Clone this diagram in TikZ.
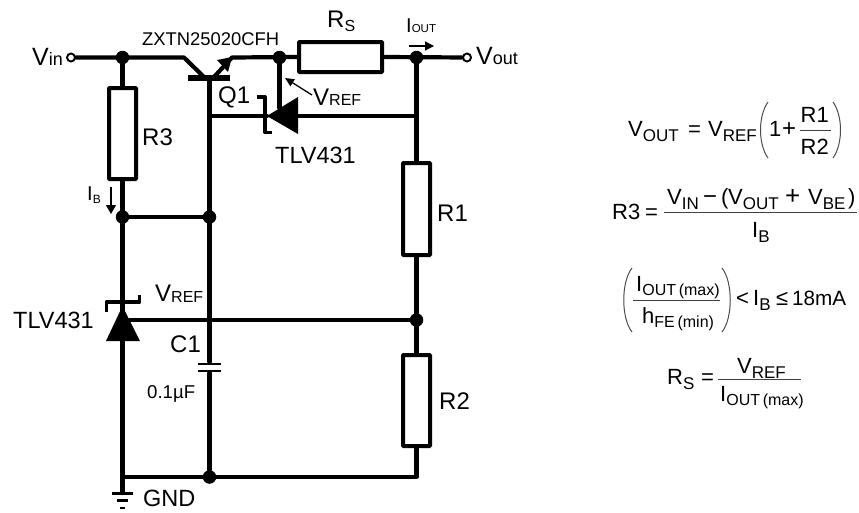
\documentclass[tikz,border=0pt]{standalone}
\usepackage{fontspec}
\setmainfont{Liberation Sans}
\usetikzlibrary{positioning,calc,arrows.meta}
\newcommand{\fs}[1]{\fontsize{#1}{#1}\selectfont}
\newcommand{\sbs}[4][4]{#3\raisebox{-#1pt}{\fs{#2}#4}}
\tikzset{
    wire/.style={line width=4.2pt, line cap=round, line join=round},
    thinwire/.style={line width=1.3pt},
    res/.style={draw, line width=4pt, rounded corners=0.8pt, inner sep=0pt, minimum width=27pt},
    dot/.style={circle, fill=black, inner sep=0pt, minimum size=13.5pt},
    port/.style={circle, draw, fill=white, line width=1.9pt, inner sep=0pt, minimum size=8pt},
    txt/.style={font=\fs{#1}, anchor=base west, inner sep=0pt},
    ruleline/.style={line width=1pt, black!75},
    paren/.style={line width=1pt, black!70},
}
\begin{document}
\begin{tikzpicture}[x=1pt, y=-1pt]
    \useasboundingbox (0,0) rectangle (859,512);

    % Junctions and terminals
    \node[port] (vin) at (71,57.5) {};
    \node[port] (vout) at (467,57.5) {};
    \node[dot] (ntop) at (122.5,57.5) {};
    \node[dot] (nref) at (279.5,57.5) {};
    \node[dot] (nout) at (416.5,57.5) {};
    \node[dot] (nbase) at (122.5,217) {};
    \node[dot] (ncol) at (209.5,217) {};
    \node[dot] (ndiv) at (416.5,320) {};
    \node[dot] (nbot) at (209.5,477) {};
    \coordinate (corner) at (122.5,477);
    \coordinate (cornerR) at (416.5,477);
    \coordinate (basein) at (184,57.5);
    \coordinate (basehit) at (205,78);
    \coordinate (collector) at (209.5,78);
    \coordinate (emhit) at (214,77);
    \coordinate (emout) at (232,57.5);
    \coordinate (ctrl) at (209.5,116);
    \coordinate (capT) at (209.5,362);
    \coordinate (capB) at (209.5,373);
    \coordinate (gnd) at (122.5,493);

    % Resistors
    \node[res, minimum width=83pt, minimum height=30pt] (Rs) at (340.5,57) {};
    \node[res, minimum height=91pt] (R3) at (122.5,133.5) {};
    \node[res, minimum height=92pt] (R1) at (416.5,209) {};
    \node[res, minimum height=91pt] (R2) at (416.5,400.5) {};

    % Wiring
    \draw[wire] (vin) -- (ntop) -- (basein) -- (basehit);
    \draw[wire] (emhit) -- (emout) -- (Rs.west);
    \draw[wire] (Rs.east) -- (vout);
    \draw[wire] (ntop) -- (R3.north);
    \draw[wire] (R3.south) -- (corner) -- (cornerR) -- (R2.south);
    \draw[wire] (nbase) -- (ncol);
    \draw[wire] (collector) -- (capT);
    \draw[wire] (capB) -- (nbot);
    \draw[wire] (nout) -- (R1.north);
    \draw[wire] (R1.south) -- (ndiv) -- (R2.north);
    \draw[wire] (corner) -- (gnd);

    % Transistor Q1
    \draw[line width=5.5pt] (188,78) -- (230,78);
    \fill (232,57) -- (217,60) -- (228,72) -- cycle;

    % Upper TLV431
    \coordinate (utip) at (267,116);
    \coordinate (ubase) at (298,116);
    \fill (utip) -- (298,97) -- (298,134) -- cycle;
    \draw[line width=3.3pt, line join=round] (257,97) -- (265,97) -- (265,132.5) -- (272,132.5);
    \draw[wire] (ctrl) -- (utip);
    \draw[wire] (ubase) -- (416.5,116);
    \draw[wire] (nref) -- (279.5,108);

    % Lower TLV431
    \coordinate (ltip) at (122.5,306);
    \fill (ltip) -- (106,341) -- (140,341) -- cycle;
    \draw[line width=3.3pt, line join=round] (106.5,312) -- (106.5,302) -- (139.5,302) -- (139.5,295);
    \draw[wire] (130,320) -- (ndiv);

    % C1 plates and ground
    \draw[line width=2.4pt] (198,364) -- (221,364);
    \draw[line width=2.4pt] (198,371) -- (221,371);
    \draw[line width=2.2pt] (112,493.5) -- (133,493.5);
    \draw[line width=2.2pt] (117,500.5) -- (128,500.5);
    \draw[line width=2.2pt] (120,508) -- (125,508);

    % Small arrows
    \coordinate (vrefA) at (312,95);
    \coordinate (vrefB) at (285,78);
    \coordinate (ioutA) at (409,46);
    \coordinate (ioutB) at (434,46);
    \coordinate (ibA) at (111,187);
    \coordinate (ibB) at (111,214);
    \draw[thinwire, -{Triangle[length=9pt,width=8pt]}] (vrefA) -- (vrefB);
    \draw[thinwire, -{Triangle[length=9pt,width=9pt]}] (ioutA) -- (ioutB);
    \draw[thinwire, -{Triangle[length=9pt,width=10pt]}] (ibA) -- (ibB);

    % Circuit labels
    \node[txt=25] (lvin) at (32,65) {\sbs[0]{18}{V}{in}};
    \node[txt=25] (lvout) at (476,64) {\sbs[0]{18}{V}{out}};
    \node[txt=18.4] (lq) at (142,45) {ZXTN25020CFH};
    \node[txt=24] (lrs) at (327,27) {\sbs{16}{R}{S}};
    \node[txt=20] (liout) at (406,32) {\sbs[0]{11.5}{I}{OUT}};
    \node[txt=20] (lib) at (87,200) {\sbs[3]{12}{I}{B}};
    \node[txt=24] (lq1) at (218,103) {Q1};
    \node[txt=24] (lr3) at (142,145) {R3};
    \node[txt=24] (lr1) at (437,221) {R1};
    \node[txt=24] (lr2) at (439,409) {R2};
    \node[txt=23.5] (ltlvA) at (275,163) {TLV431};
    \node[txt=23.5] (ltlvB) at (13,328) {TLV431};
    \node[txt=24] (lvrefA) at (313,105) {\sbs[0]{16}{V}{REF}};
    \node[txt=24] (lvrefB) at (155,301) {\sbs[1]{16}{V}{REF}};
    \node[txt=24] (lc1) at (170,352) {C1};
    \node[txt=18.6] (lcv) at (147,398) {0.1µF};
    \node[txt=23.5] (lgnd) at (143,506) {GND};

    % V_OUT equation
    \node[txt=22] (e1a) at (628,136) {\sbs[5]{17}{V}{OUT}};
    \node[txt=22] (e1b) at (688,136) {=};
    \node[txt=22] (e1c) at (708,136) {\sbs[5]{17}{V}{REF}};
    \node[txt=22] (e1d) at (769,136) {1};
    \node[txt=24] (e1e) at (782,136) {+};
    \node[txt=22] (e1f) at (800.5,122) {R1};
    \node[txt=22] (e1g) at (800.5,154) {R2};
    \draw[ruleline] (800,130) -- (831,130);
    \draw[paren] (768,102) .. controls (758,116) and (758,144) .. (768,158);
    \draw[paren] (833,102) .. controls (843,116) and (843,144) .. (833,158);

    % R3 equation
    \node[txt=22] (e2a) at (612,219) {R3};
    \node[txt=22] (e2b) at (645,219) {=};
    \node[txt=24] (e2d) at (703,204) {−};
    \node[txt=22] (e2c) at (667,204) {\sbs[5]{17}{V}{IN}};
    \node[txt=22] (e2e) at (721,204) {(};
    \node[txt=22] (e2f) at (728,204) {\sbs[5]{17}{V}{OUT}};
    \node[txt=26] (e2g) at (785,204) {+};
    \node[txt=22] (e2h) at (808,204) {\sbs[5]{17}{V}{BE}};
    \node[txt=22] (e2i) at (848,204) {)};
    \node[txt=22] (e2j) at (752,237) {\sbs[5]{17}{I}{B}};
    \draw[ruleline] (664,212) -- (857,212);

    % I_B limits
    \node[txt=22] (e3a) at (636,291) {\sbs[4]{16}{I}{OUT\,(max)}};
    \node[txt=22] (e3b) at (642,323) {\sbs[4]{16}{h}{FE\,(min)}};
    \node[txt=22] (e3c) at (736,305) {<};
    \node[txt=22] (e3d) at (753,305) {\sbs[5]{17}{I}{B}};
    \node[txt=22] (e3e) at (776,305) {≤};
    \node[txt=20.7] (e3f) at (792,305) {18mA};
    \draw[ruleline] (633,300) -- (720,300);
    \draw[paren] (632,268) .. controls (621,282) and (621,318) .. (632,332);
    \draw[paren] (722,268) .. controls (733,282) and (733,318) .. (722,332);

    % R_S equation
    \node[txt=22] (e4a) at (667,384) {\sbs[5]{17}{R}{S}};
    \node[txt=22] (e4b) at (701,384) {=};
    \node[txt=22] (e4c) at (737,373) {\sbs[5]{17}{V}{REF}};
    \node[txt=22] (e4d) at (720,401) {\sbs[4]{16}{I}{OUT\,(max)}};
    \draw[ruleline] (718,379) -- (801,379);
\end{tikzpicture}
\end{document}
